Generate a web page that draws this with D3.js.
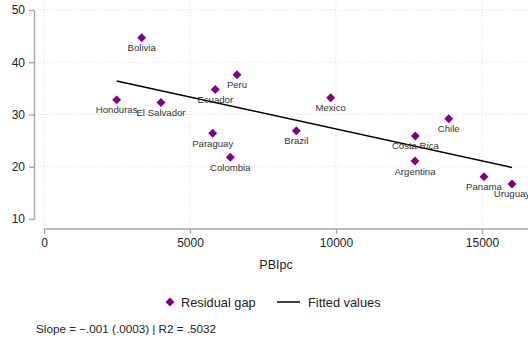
<!DOCTYPE html>
<html>
<head>
<meta charset="utf-8">
<script src="https://cdn.jsdelivr.net/npm/d3@7"></script>
<style>
  body { margin: 0; background: #fff; }
  svg { font-family: "Liberation Sans", Arial, sans-serif; }
  .grid line { stroke: #d9d9d9; stroke-dasharray: 1,2; }
  .axis path, .axis line { stroke: #a6a6a6; stroke-width: 1.4; }
  .axis text { fill: #222; font-size: 12px; }
</style>
</head>
<body>
<svg id="chart" width="528" height="340"></svg>
<script>
// data
var countries = ["Bolivia", "Honduras", "El Salvador", "Ecuador", "Peru", "Mexico", "Chile",
                 "Paraguay", "Colombia", "Brazil", "Costa Rica", "Argentina", "Panama", "Uruguay"];
var pbipc = [3346, 2489, 4007, 5866, 6610, 9818, 13860, 5777, 6381, 8641, 12717, 12706, 15068, 16027];
var gap = [44.7, 32.8, 32.3, 34.8, 37.6, 33.2, 29.2, 26.4, 21.8, 26.9, 25.9, 21.1, 18.1, 16.7];

var fitX = [2489, 16027];
var fitY = [36.4, 19.85];

var xTicks = [0, 5000, 10000, 15000];
var yTicks = [10, 20, 30, 40, 50];

var svg = d3.select("#chart");

var x = d3.scaleLinear().domain([0, 15000]).range([44, 482]);
var y = d3.scaleLinear().domain([10, 50]).range([219, 10]);

// gridlines
var grid = svg.append("g").attr("class", "grid");
grid.selectAll(".gy").data(yTicks.filter(function(d) { return d > 10; })).enter().append("line")
    .attr("x1", 35).attr("x2", 528)
    .attr("y1", function(d) { return y(d); }).attr("y2", function(d) { return y(d); });
grid.selectAll(".gx").data(xTicks).enter().append("line")
    .attr("y1", 0).attr("y2", 226)
    .attr("x1", function(d) { return x(d); }).attr("x2", function(d) { return x(d); });

// x axis
var xAxis = svg.append("g")
    .attr("class", "axis")
    .attr("transform", "translate(0,229)")
    .call(d3.axisBottom(x).tickValues(xTicks).tickFormat(d3.format("d"))
        .tickSize(5).tickSizeOuter(0).tickPadding(4));
xAxis.select(".domain").attr("d", "M" + x(0) + ",0H528");

// y axis
var yAxis = svg.append("g")
    .attr("class", "axis")
    .attr("transform", "translate(34,0)")
    .call(d3.axisLeft(y).tickValues(yTicks).tickSize(5).tickSizeOuter(0).tickPadding(4));

// fitted line
svg.append("path")
    .datum(d3.zip(fitX, fitY))
    .attr("fill", "none")
    .attr("stroke", "#000")
    .attr("stroke-width", 1.5)
    .attr("d", d3.line().x(function(d) { return x(d[0]); }).y(function(d) { return y(d[1]); }));

var diamond = d3.symbol().type(d3.symbolSquare).size(40);

// markers
svg.selectAll(".pt").data(countries).enter().append("path")
    .attr("d", diamond)
    .attr("fill", "#800080")
    .attr("transform", function(d, i) {
        return "translate(" + x(pbipc[i]) + "," + y(gap[i]) + ") rotate(45)";
    });

// labels
svg.selectAll(".lbl").data(countries).enter().append("text")
    .attr("x", function(d, i) { return x(pbipc[i]); })
    .attr("y", function(d, i) { return y(gap[i]) + 13.5; })
    .attr("text-anchor", "middle")
    .style("font-size", "9.6px")
    .style("fill", "#333")
    .text(function(d) { return d; });

// axis title
svg.append("text")
    .attr("x", 276).attr("y", 269)
    .attr("text-anchor", "middle")
    .style("font-size", "12.5px")
    .style("fill", "#222")
    .text("PBIpc");

// legend
svg.append("path")
    .attr("d", diamond)
    .attr("fill", "#800080")
    .attr("transform", "translate(170,302) rotate(45)");
svg.append("text")
    .attr("x", 181).attr("y", 306.5)
    .style("font-size", "12.8px").style("fill", "#222")
    .text("Residual gap");
svg.append("line")
    .attr("x1", 277).attr("x2", 300).attr("y1", 302).attr("y2", 302)
    .attr("stroke", "#000").attr("stroke-width", 1.5);
svg.append("text")
    .attr("x", 308).attr("y", 306.5)
    .style("font-size", "12.8px").style("fill", "#222")
    .text("Fitted values");

// note
svg.append("text")
    .attr("x", 36).attr("y", 333)
    .style("font-size", "11.7px").style("fill", "#222")
    .text("Slope = \u2212.001 (.0003) | R2 = .5032");
</script>
</body>
</html>
